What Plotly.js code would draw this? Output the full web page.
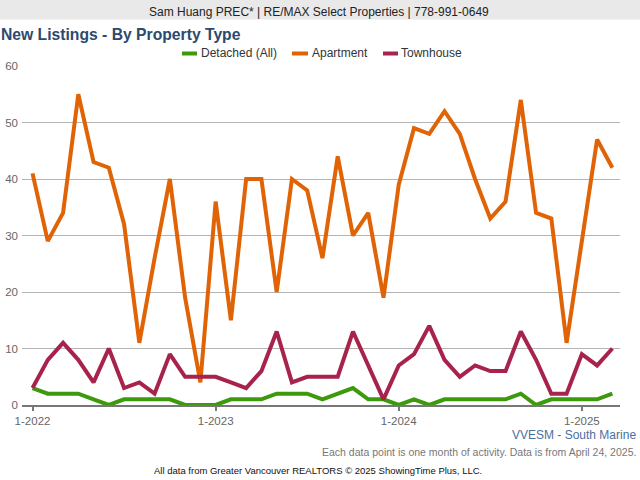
<!DOCTYPE html>
<html>
<head>
<meta charset="utf-8">
<script src="https://cdn.plot.ly/plotly-3.0.1.min.js"></script>
<style>html,body{margin:0;padding:0;background:#fff;}#chart{width:640px;height:480px;}</style>
</head>
<body>
<div id="chart"></div>
<script>
var months = ["1-2022","2-2022","3-2022","4-2022","5-2022","6-2022","7-2022","8-2022","9-2022","10-2022","11-2022","12-2022",
  "1-2023","2-2023","3-2023","4-2023","5-2023","6-2023","7-2023","8-2023","9-2023","10-2023","11-2023","12-2023",
  "1-2024","2-2024","3-2024","4-2024","5-2024","6-2024","7-2024","8-2024","9-2024","10-2024","11-2024","12-2024",
  "1-2025","2-2025","3-2025"];
var detached = [3,2,2,2,1,0,1,1,1,1,0,0, 0,1,1,1,2,2,2,1,2,3,1,1, 0,1,0,1,1,1,1,1,2,0,1,1, 1,1,2];
var apartment = [41,29,34,55,43,42,32,11,26,40,19,4, 36,15,40,40,20,40,38,26,44,30,34,19, 39,49,48,52,48,40,33,36,54,34,33,11, 29,47,42];
var townhouse = [3,8,11,8,4,10,3,4,2,9,5,5, 5,4,3,6,13,4,5,5,5,13,7,1, 7,9,14,8,5,7,6,6,13,8,2,2, 9,7,10];
var seriesNames = ["Detached (All)", "Apartment", "Townhouse"];
var seriesColors = ["#3d9a0c", "#e06306", "#a8234b"];
var tickLabels = ["1-2022","1-2023","1-2024","1-2025"];
var yTicks = [0,10,20,30,40,50,60];

var FONT = "Liberation Sans, Arial, Helvetica, sans-serif";
// plot area in pixels
var L = 22, R = 620, T = 66, B = 405;
function px(x){ return (x - L) / (R - L); }
function py(y){ return (B - y) / (B - T); }

var seriesData = [detached, apartment, townhouse];
var traces = seriesData.map(function(vals, i){
  return {
    x: months, y: vals, type: "scatter", mode: "lines", name: seriesNames[i],
    line: {color: seriesColors[i], width: 4}, hoverinfo: "x+y+name"
  };
});

var shapes = [
  {type:"rect", xref:"paper", yref:"paper", x0:px(0), x1:px(640), y0:py(19.5), y1:py(0),
   fillcolor:"#e9e9e9", line:{width:0}, layer:"below"}
];
var annotations = [
  {xref:"paper", yref:"paper", x:px(318.5), y:py(11.5), xanchor:"center", yanchor:"middle", showarrow:false,
   text:"Sam Huang PREC* | RE/MAX Select Properties | 778-991-0649", font:{family:FONT, size:12, color:"#222"}},
  {xref:"paper", yref:"paper", x:px(638), y:py(434.5), xanchor:"right", yanchor:"middle", showarrow:false,
   text:"VVESM - South Marine", font:{family:FONT, size:12, color:"#4a70a2"}},
  {xref:"paper", yref:"paper", x:px(638), y:py(452), xanchor:"right", yanchor:"middle", showarrow:false,
   text:"Each data point is one month of activity. Data is from April 24, 2025.", font:{family:FONT, size:10.5, color:"#777"}},
  {xref:"paper", yref:"paper", x:px(318), y:py(470), xanchor:"center", yanchor:"middle", showarrow:false,
   text:"All data from Greater Vancouver REALTORS \u00a9 2025 ShowingTime Plus, LLC.", font:{family:FONT, size:9.5, color:"#111"}}
];
// custom legend
var legX = [[182,197,199],[292,308,310],[383,398,399]];
for (var i = 0; i < seriesNames.length; i++) {
  shapes.push({type:"line", xref:"paper", yref:"paper", x0:px(legX[i][0]), x1:px(legX[i][1]), y0:py(53.5), y1:py(53.5),
    line:{color:seriesColors[i], width:4}});
  annotations.push({xref:"paper", yref:"paper", x:px(legX[i][2]), y:py(53.5), xanchor:"left", yanchor:"middle", showarrow:false,
    text:seriesNames[i], font:{family:FONT, size:12, color:"#333"}});
}

var layout = {
  width: 640, height: 480,
  margin: {l: L, r: 640 - R, t: T, b: 480 - B, pad: 0},
  paper_bgcolor: "#fff", plot_bgcolor: "#fff",
  showlegend: false,
  title: {text: "New Listings - By Property Type", x: 1/640, xanchor: "left", xref: "container",
          y: 1 - 34.5/480, yanchor: "middle", yref: "container",
          font: {family: FONT, size: 15.7, color: "#2c4a6e", weight: "bold"}},
  xaxis: {
    type: "category", range: [-0.69, 38.5], tickmode: "array", tickvals: tickLabels, ticktext: tickLabels,
    showgrid: false, showline: true, linecolor: "#777", linewidth: 2, ticks: "outside", ticklen: 4, tickwidth: 2,
    tickcolor: "#777", tickfont: {family: FONT, size: 11.5, color: "#666"}, zeroline: false, fixedrange: true
  },
  yaxis: {
    range: [0, 60], tickmode: "array", tickvals: yTicks, showgrid: true, gridcolor: "#b4b4b4", gridwidth: 1,
    zeroline: false, showline: false, ticks: "", ticklabelstandoff: 3,
    tickfont: {family: FONT, size: 11.5, color: "#666"}, fixedrange: true
  },
  shapes: shapes,
  annotations: annotations
};

Plotly.newPlot("chart", traces, layout, {displayModeBar: false, staticPlot: false});
</script>
</body>
</html>
